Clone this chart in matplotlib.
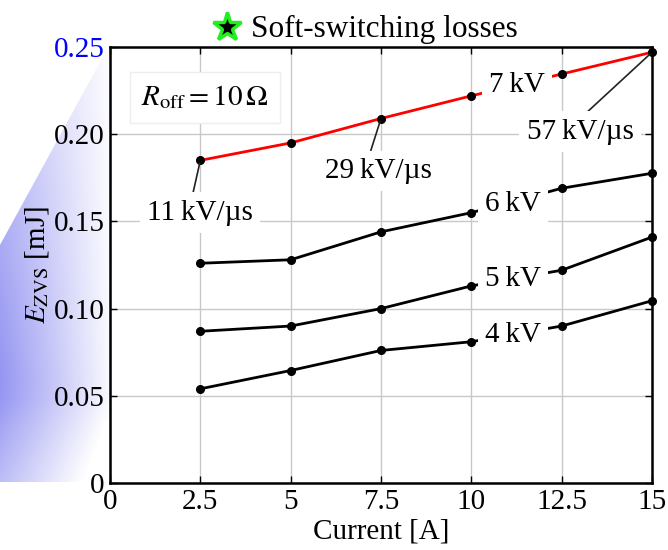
import numpy as np
import matplotlib
matplotlib.use('Agg')
import matplotlib.pyplot as plt
from matplotlib.patches import Polygon

plt.rcParams['font.family'] = ['Liberation Serif', 'DejaVu Serif']
plt.rcParams['mathtext.fontset'] = 'stix'

current = [2.5, 5, 7.5, 10, 12.5, 15]
e_7kv = [0.185, 0.195, 0.209, 0.222, 0.2345, 0.247]
e_6kv = [0.126, 0.128, 0.144, 0.155, 0.169, 0.1776]
e_5kv = [0.087, 0.090, 0.100, 0.113, 0.122, 0.141]
e_4kv = [0.054, 0.0645, 0.076, 0.081, 0.090, 0.1045]

voltage_labels = ['7\u2009kV', '6\u2009kV', '5\u2009kV', '4\u2009kV']
voltage_label_pos = [(11.27, 0.228), (11.15, 0.160), (11.15, 0.117), (11.15, 0.085)]

# dv/dt notes on the 7 kV curve: (label, point index, text position)
slew_labels = ['11\u2009kV/\u00b5s', '29\u2009kV/\u00b5s', '57\u2009kV/\u00b5s']
slew_idx = [0, 2, 5]
slew_pos = [(2.49, 0.155), (7.42, 0.179), (13.01, 0.2015)]
slew_relpos = [(0.42, 1.0), (0.41, 1.0), (0.5, 1.0)]

xticks = [0, 2.5, 5, 7.5, 10, 12.5, 15]
xticklabels = ['0', '2.5', '5', '7.5', '10', '12.5', '15']
yticks = [0, 0.05, 0.10, 0.15, 0.20, 0.25]
yticklabels = ['0', '0.05', '0.10', '0.15', '0.20', '0.25']

fs = 21

fig = plt.figure(figsize=(6.68, 5.5), dpi=100)

# blue slide decoration behind the y axis
bg = fig.add_axes([0, 0, 1, 1], zorder=-5)
bg.set_xlim(0, 668)
bg.set_ylim(550, 0)
bg.axis('off')
gx, gy = np.meshgrid(np.arange(0, 120), np.arange(40, 490))
t = np.clip(1 - (gx + 0.4 * np.clip(gy - 400, 0, None)) / 115.0, 0, 1) \
    * (0.55 + 0.45 * np.clip(1 - np.abs(gy - 380) / 320.0, 0, 1))
base = np.array([130, 130, 240]) / 255.0
img = 1 - 0.85 * t[..., None] * (1 - base)
im = bg.imshow(img, extent=(0, 120, 490, 40), aspect='auto', interpolation='bilinear')
clip = Polygon([(0, 482), (0, 245), (104, 55), (112, 55), (112, 482)], closed=True,
               transform=bg.transData, facecolor='none', edgecolor='none')
bg.add_patch(clip)
im.set_clip_path(clip)

ax = fig.add_axes([110 / 668, 67 / 550, 542 / 668, 436 / 550])

series = [e_7kv, e_6kv, e_5kv, e_4kv]
colors = ['red', 'black', 'black', 'black']
for vals, c in zip(series, colors):
    ax.plot(current, vals, color=c, lw=2, zorder=3, clip_on=False)
    ax.plot(current, vals, 'o', color='black', ms=5.5, zorder=4, clip_on=False)

box = dict(boxstyle='square,pad=0.25', facecolor='white', edgecolor='none')
for lab, (x, y) in zip(voltage_labels, voltage_label_pos):
    ax.text(x, y, lab, fontsize=fs, ha='center', va='center', bbox=box, zorder=5)

for lab, i, (x, y), rp in zip(slew_labels, slew_idx, slew_pos, slew_relpos):
    ax.annotate(lab, xy=(current[i], e_7kv[i]), xytext=(x, y), fontsize=fs,
                ha='center', va='center', bbox=box, zorder=5,
                arrowprops=dict(arrowstyle='-', color='#222222', lw=1.2,
                                relpos=rp, shrinkA=0, shrinkB=2))

ax.text(2.63, 0.221, r'$R_{\rm off} = 10\,\Omega$', fontsize=fs, ha='center', va='center',
        bbox=dict(boxstyle='square,pad=0.4', facecolor='white', edgecolor='#eeeeee', lw=1),
        zorder=5)

ax.set_xlim(0, 15)
ax.set_ylim(0, 0.25)
ax.set_xticks(xticks)
ax.set_xticklabels(xticklabels)
ax.set_yticks(yticks)
ax.set_yticklabels(yticklabels)
ax.tick_params(direction='in', length=5, width=1, labelsize=fs, top=True, right=True, pad=4)
ax.get_yticklabels()[-1].set_color('blue')
ax.grid(True, color='#c8c8c8', lw=1)
ax.set_axisbelow(True)
for s in ax.spines.values():
    s.set_linewidth(1.8)

ax.set_xlabel('Current [A]', fontsize=fs, labelpad=3)
ax.set_ylabel(r'$E_{\rm ZVS}$ [mJ]', fontsize=fs, labelpad=2)

fig.text(384 / 668, 1 - 29 / 550, 'Soft-switching losses', fontsize=22.5, ha='center', va='center')
fig.add_artist(matplotlib.lines.Line2D([227 / 668], [1 - 27 / 550], marker='*', ms=21,
                                       markerfacecolor='black', markeredgecolor='#22ee22',
                                       markeredgewidth=2.5, transform=fig.transFigure))

fig.savefig('out.png', dpi=100)
